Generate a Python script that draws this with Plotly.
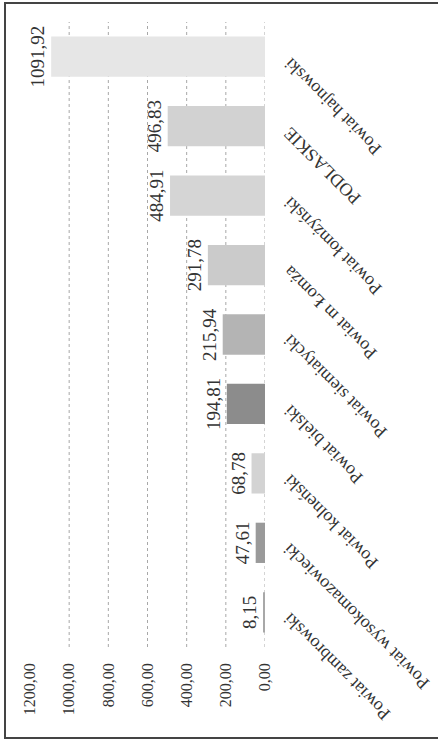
import plotly.graph_objects as go

categories = ["Powiat hajnowski", "PODLASKIE", "Powiat łomżyński", "Powiat m Łomża",
              "Powiat siemiatycki", "Powiat bielski", "Powiat kolneński",
              "Powiat wysokomazowiecki", "Powiat zambrowski"]
values = [1091.92, 496.83, 484.91, 291.78, 215.94, 194.81, 68.78, 47.61, 8.15]
bar_colors = ["#e6e6e6", "#d2d2d2", "#d5d5d5", "#cbcbcb", "#b4b4b4", "#8c8c8c",
              "#d3d3d3", "#9a9a9a", "#a8a8a8"]
tick_values = [0, 200, 400, 600, 800, 1000, 1200]
grid_values = [0, 200, 400, 600, 800, 1000]

FONT = "Liberation Serif"
TXT = "#333333"

fig = go.Figure()
fig.add_trace(go.Bar(
    x=values, y=categories, orientation="h",
    marker=dict(color=bar_colors, line=dict(width=0)),
    text=values, texttemplate="%{x:.2f}", textposition="outside",
    textangle=-90, cliponaxis=False,
    textfont=dict(family=FONT, size=19, color=TXT),
))

shapes = []
for g in grid_values:
    shapes.append(dict(type="line", xref="x", yref="paper", x0=g, x1=g, y0=0, y1=1,
                       line=dict(color="#a8a8a8", width=1, dash="dot"), layer="below"))
# outer frame
shapes.append(dict(type="rect", xref="paper", yref="paper",
                   x0=(5 - 30) / 235, x1=(450 - 30) / 235,
                   y0=(647 - 738) / 625, y1=(647 - 3) / 625,
                   line=dict(color="#444444", width=2)))

annotations = []
for c in categories:
    annotations.append(dict(text=c, xref="paper", yref="y", x=1, y=c,
                            xanchor="left", yanchor="top", xshift=12, yshift=6,
                            textangle=-135, showarrow=False,
                            font=dict(family=FONT, size=18, color=TXT)))

fig.update_layout(
    width=438, height=742,
    margin=dict(l=30, r=173, t=22, b=95),
    paper_bgcolor="white", plot_bgcolor="white",
    separators=", ",
    showlegend=False,
    bargap=0.42,
    shapes=shapes,
    annotations=annotations,
    xaxis=dict(range=[1200, 0], tickvals=tick_values, tickformat=".2f",
               tickangle=-90, showgrid=False, zeroline=False, showline=False,
               ticks="", ticklabelstandoff=12,
               tickfont=dict(family=FONT, size=16, color=TXT)),
    yaxis=dict(range=[len(categories) - 0.5, -0.5], showticklabels=False, showgrid=False,
               zeroline=False, showline=False, ticks=""),
)

post = ("document.body.style.margin='0';document.body.style.padding='0';"
        "var d=document.getElementById('{plot_id}');"
        "d.style.position='absolute';d.style.left='0px';d.style.top='0px';")
fig.write_html("out.html", post_script=post, config={"displayModeBar": False})
